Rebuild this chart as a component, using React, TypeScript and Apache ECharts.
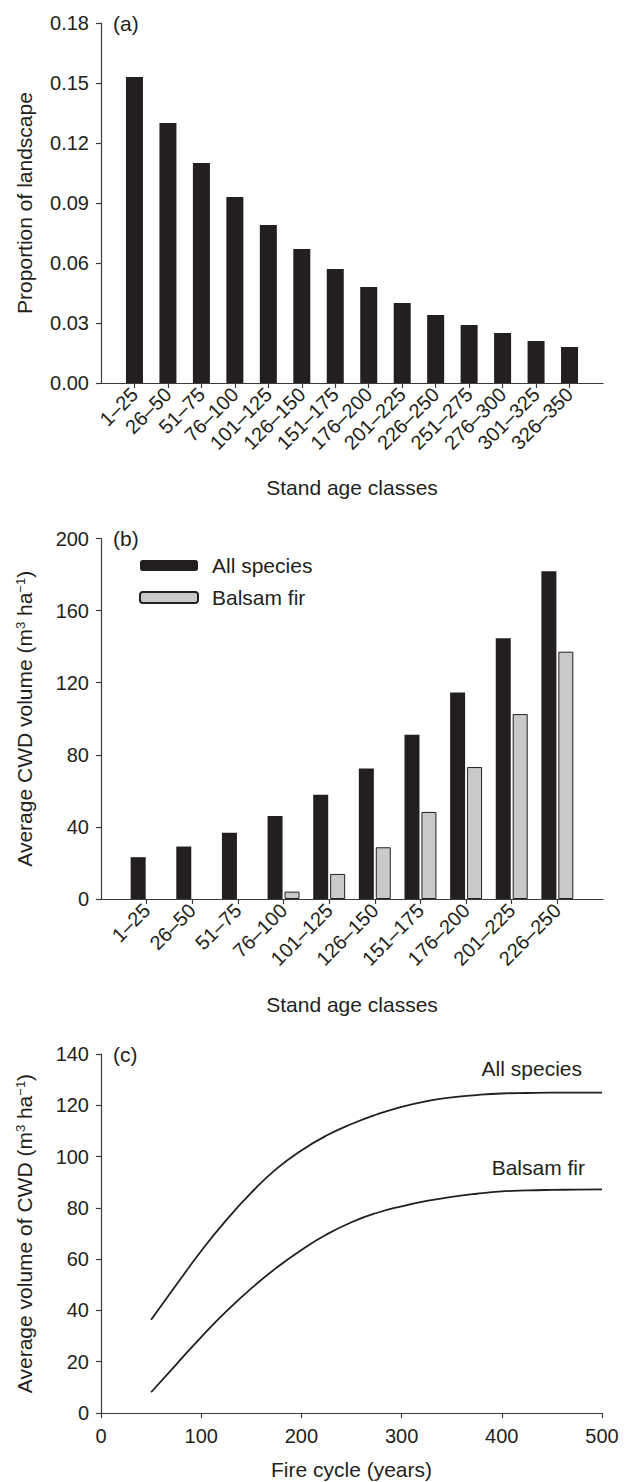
import React, { useEffect, useRef } from "react";
import * as echarts from "echarts";

// ---------- Data ----------
const ageClassesA = [
  "1–25", "26–50", "51–75", "76–100", "101–125", "126–150", "151–175",
  "176–200", "201–225", "226–250", "251–275", "276–300", "301–325", "326–350",
];
const proportionLandscape = [
  0.153, 0.130, 0.110, 0.093, 0.079, 0.067, 0.057, 0.048, 0.040, 0.034, 0.029, 0.025, 0.021, 0.018,
];

const ageClassesB = [
  "1–25", "26–50", "51–75", "76–100", "101–125", "126–150", "151–175", "176–200", "201–225", "226–250",
];
const cwdAllSpecies = [23.2, 29.1, 36.8, 46.1, 57.9, 72.4, 91.1, 114.6, 144.6, 181.8];
const cwdBalsamFir: (number | null)[] = [null, null, null, 4.1, 13.9, 28.7, 48.3, 73.2, 102.6, 137.2];

const fireCycleYears = [50, 75, 100, 125, 150, 175, 200, 225, 250, 275, 300, 325, 350, 375, 400, 425, 450, 475, 500];
const volAllSpecies = [36.4, 49.9, 63.2, 75.2, 85.9, 95.2, 102.4, 108.2, 112.7, 116.4, 119.4, 121.6, 123.1, 124.0, 124.6, 124.8, 124.9, 124.9, 124.9];
const volBalsamFir = [8.1, 18.9, 29.6, 39.6, 48.6, 56.6, 63.6, 69.6, 74.4, 78.0, 80.6, 82.7, 84.3, 85.5, 86.4, 86.8, 87.0, 87.1, 87.2];

const ticksA = ageClassesA.map((_, i) => i + 1);
const ticksB = ageClassesB.map((_, i) => i + 1);

// ---------- Styles ----------
const FONT = "'Liberation Sans', Arial, Helvetica, sans-serif";
const INK = "#231f20";
const AXIS = "#3c3c3c";
const GREY = "#c8c9cb";
const FS = 21; // names, legend, annotations
const FT = 20; // tick labels

const nameTxt = { fontSize: FS, color: INK, fontFamily: FONT };
const tickTxt = { fontSize: FT, color: INK, fontFamily: FONT };
const axisLine = { show: true, lineStyle: { color: AXIS, width: 1.2 } };
const axisTick = { show: true, length: 5, lineStyle: { color: AXIS, width: 1.2 } };
const supRich = {
  sup: { fontSize: 13, color: INK, fontFamily: FONT, verticalAlign: "top", lineHeight: 13 },
};

export default function App() {
  const ref = useRef<HTMLDivElement>(null);

  useEffect(() => {
    if (!ref.current) return;
    const chart = echarts.init(ref.current, null, { renderer: "svg" });

    const option: any = {
      animation: false,
      backgroundColor: "#ffffff",
      textStyle: { fontFamily: FONT },
      grid: [
        { left: 101, top: 23, width: 502, height: 360 },
        { left: 101, top: 538.5, width: 502, height: 360.5 },
        { left: 101, top: 1054, width: 501, height: 359 },
      ],
      legend: {
        data: ["All species", "Balsam fir"],
        orient: "vertical",
        left: 134,
        top: 550,
        itemWidth: 58,
        itemHeight: 11,
        itemGap: 11,
        selectedMode: false,
        textStyle: { ...nameTxt, padding: [0, 0, 0, 9] },
      },
      xAxis: [
        {
          gridIndex: 0,
          type: "value",
          min: 0,
          max: ageClassesA.length + 1,
          interval: 1,
          splitLine: { show: false },
          axisLine,
          axisTick: { ...axisTick, customValues: ticksA },
          axisLabel: {
            ...tickTxt,
            customValues: ticksA,
            rotate: 45,
            margin: 8,
            formatter: (v: number) => ageClassesA[Math.round(v) - 1] ?? "",
          },
          name: "Stand age classes",
          nameLocation: "middle",
          nameGap: 94,
          nameTextStyle: nameTxt,
        },
        {
          gridIndex: 1,
          type: "value",
          min: 0,
          max: ageClassesB.length + 1,
          interval: 1,
          splitLine: { show: false },
          axisLine,
          axisTick: { ...axisTick, customValues: ticksB },
          axisLabel: {
            ...tickTxt,
            customValues: ticksB,
            rotate: 45,
            margin: 8,
            formatter: (v: number) => ageClassesB[Math.round(v) - 1] ?? "",
          },
          name: "Stand age classes",
          nameLocation: "middle",
          nameGap: 95,
          nameTextStyle: nameTxt,
        },
        {
          gridIndex: 2,
          type: "value",
          min: 0,
          max: 500,
          interval: 100,
          splitLine: { show: false },
          axisLine,
          axisTick,
          axisLabel: { ...tickTxt, margin: 13 },
          name: "Fire cycle (years)",
          nameLocation: "middle",
          nameGap: 46,
          nameTextStyle: nameTxt,
        },
      ],
      yAxis: [
        {
          gridIndex: 0,
          type: "value",
          min: 0,
          max: 0.18,
          interval: 0.03,
          splitLine: { show: false },
          axisLine,
          axisTick,
          axisLabel: { ...tickTxt, margin: 12, formatter: (v: number) => v.toFixed(2) },
          name: "Proportion of landscape",
          nameLocation: "middle",
          nameRotate: 90,
          nameGap: 66,
          nameTextStyle: nameTxt,
        },
        {
          gridIndex: 1,
          type: "value",
          min: 0,
          max: 200,
          interval: 40,
          splitLine: { show: false },
          axisLine,
          axisTick,
          axisLabel: { ...tickTxt, margin: 12 },
          name: "Average CWD volume (m{sup|3} ha{sup|−1})",
          nameLocation: "middle",
          nameRotate: 90,
          nameGap: 66,
          nameTextStyle: { ...nameTxt, rich: supRich },
        },
        {
          gridIndex: 2,
          type: "value",
          min: 0,
          max: 140,
          interval: 20,
          splitLine: { show: false },
          axisLine,
          axisTick,
          axisLabel: { ...tickTxt, margin: 12 },
          name: "Average volume of CWD (m{sup|3} ha{sup|−1})",
          nameLocation: "middle",
          nameRotate: 90,
          nameGap: 66,
          nameTextStyle: { ...nameTxt, rich: supRich },
        },
      ],
      series: [
        {
          type: "bar",
          name: "Proportion",
          xAxisIndex: 0,
          yAxisIndex: 0,
          barWidth: 17,
          itemStyle: { color: INK },
          data: proportionLandscape.map((v, i) => [i + 1, v]),
        },
        {
          type: "bar",
          name: "All species",
          xAxisIndex: 1,
          yAxisIndex: 1,
          barWidth: 15,
          barGap: "13%",
          itemStyle: { color: INK },
          data: cwdAllSpecies.map((v, i) => [i + 1, v]),
        },
        {
          type: "bar",
          name: "Balsam fir",
          xAxisIndex: 1,
          yAxisIndex: 1,
          barWidth: 15,
          barGap: "13%",
          itemStyle: { color: GREY, borderColor: INK, borderWidth: 1 },
          data: cwdBalsamFir.map((v, i) => [i + 1, v === null ? "-" : v]),
        },
        {
          type: "line",
          name: "All species (c)",
          xAxisIndex: 2,
          yAxisIndex: 2,
          showSymbol: false,
          smooth: 0.5,
          lineStyle: { color: INK, width: 1.8 },
          data: fireCycleYears.map((x, i) => [x, volAllSpecies[i]]),
        },
        {
          type: "line",
          name: "Balsam fir (c)",
          xAxisIndex: 2,
          yAxisIndex: 2,
          showSymbol: false,
          smooth: 0.5,
          lineStyle: { color: INK, width: 1.8 },
          data: fireCycleYears.map((x, i) => [x, volBalsamFir[i]]),
        },
      ],
      graphic: [
        { type: "text", x: 113, y: 23, style: { text: "(a)", font: `${FS}px ${FONT}`, fill: INK, verticalAlign: "middle", textVerticalAlign: "middle" } },
        { type: "text", x: 113, y: 538.5, style: { text: "(b)", font: `${FS}px ${FONT}`, fill: INK, verticalAlign: "middle", textVerticalAlign: "middle" } },
        { type: "text", x: 113, y: 1054, style: { text: "(c)", font: `${FS}px ${FONT}`, fill: INK, verticalAlign: "middle", textVerticalAlign: "middle" } },
        { type: "text", x: 582, y: 1068, style: { text: "All species", font: `${FS}px ${FONT}`, fill: INK, align: "right", textAlign: "right", verticalAlign: "middle", textVerticalAlign: "middle" } },
        { type: "text", x: 585, y: 1167, style: { text: "Balsam fir", font: `${FS}px ${FONT}`, fill: INK, align: "right", textAlign: "right", verticalAlign: "middle", textVerticalAlign: "middle" } },
      ],
    };

    chart.setOption(option);
    return () => chart.dispose();
  }, []);

  return (
    <div
      ref={ref}
      style={{ position: "absolute", left: 0, top: 0, width: 631, height: 1482, background: "#fff" }}
    />
  );
}
